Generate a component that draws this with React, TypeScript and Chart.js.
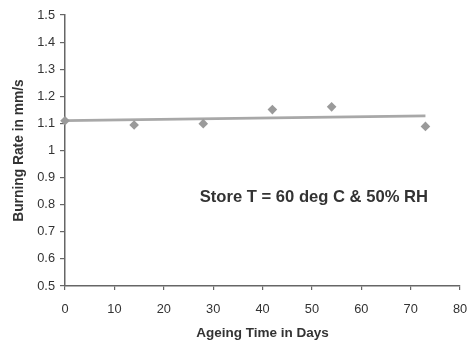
import React, { useEffect, useRef } from "react";
import { Chart, registerables } from "chart.js";

Chart.register(...registerables);

const ageingDays = [0, 14, 28, 42, 54, 73];
const burningRate = [1.11, 1.094, 1.099, 1.151, 1.161, 1.089];
const trendDays = [0, 73];
const trendRate = [1.11, 1.128];
const xTickValues = [0, 10, 20, 30, 40, 50, 60, 70, 80];
const xTickLabels = ["0", "10", "20", "30", "40", "50", "60", "70", "80"];
const yTickValues = [0.5, 0.6, 0.7, 0.8, 0.9, 1.0, 1.1, 1.2, 1.3, 1.4, 1.5];
const yTickLabels = ["0.5", "0.6", "0.7", "0.8", "0.9", "1", "1.1", "1.2", "1.3", "1.4", "1.5"];
const noteText = "Store T = 60 deg C & 50% RH";
const xTitle = "Ageing Time in Days";
const yTitle = "Burning Rate in mm/s";

const FONT = "Liberation Sans, Arial, sans-serif";
const TEXT = "#333333";
const AXIS = "#666666";

const notePlugin = {
  id: "note",
  afterDatasetsDraw(chart: any) {
    const { ctx, scales } = chart;
    const x = scales.x.getPixelForValue(50.4);
    const y = scales.y.getPixelForValue(0.828);
    ctx.save();
    ctx.font = `bold 16.6px ${FONT}`;
    ctx.fillStyle = TEXT;
    ctx.textAlign = "center";
    ctx.textBaseline = "middle";
    ctx.fillText(noteText, x, y);
    ctx.restore();
  },
};

export default function App() {
  const ref = useRef<HTMLCanvasElement | null>(null);
  useEffect(() => {
    if (!ref.current) return;
    const chart = new Chart(ref.current, {
      type: "scatter",
      data: {
        datasets: [
          {
            label: "Burning rate",
            data: ageingDays.map((d, i) => ({ x: d, y: burningRate[i] })),
            pointStyle: "rectRot",
            pointRadius: 4.8,
            pointBackgroundColor: "#9a9a9a",
            pointBorderColor: "#9a9a9a",
            pointBorderWidth: 0,
            showLine: false,
            clip: false as any,
            order: 0,
          },
          {
            label: "Trend",
            data: trendDays.map((d, i) => ({ x: d, y: trendRate[i] })),
            showLine: true,
            borderColor: "#a8a8a8",
            borderWidth: 2.8,
            pointRadius: 0,
            order: 1,
          },
        ],
      },
      options: {
        animation: false,
        responsive: false,
        layout: { padding: { left: 0, top: 15, right: 10, bottom: 0 } },
        plugins: { legend: { display: false }, tooltip: { enabled: false } },
        scales: {
          x: {
            type: "linear",
            min: 0,
            max: 80,
            afterBuildTicks: (s: any) => {
              s.ticks = xTickValues.map((v) => ({ value: v }));
            },
            afterFit: (s: any) => {
              s.height = 56;
              s.paddingRight = 0;
              s.paddingLeft = 0;
            },
            ticks: {
              callback: (_v: any, i: number) => xTickLabels[i],
              color: TEXT,
              font: { family: FONT, size: 12.8 },
              padding: 12,
              maxRotation: 0,
            },
            grid: {
              drawOnChartArea: false,
              drawTicks: true,
              tickLength: 4,
              color: AXIS,
              lineWidth: 1.2,
            },
            border: { color: AXIS, width: 1.5 },
            title: {
              display: true,
              text: xTitle,
              color: TEXT,
              font: { family: FONT, size: 13.5, weight: "bold" },
              padding: { top: 0, bottom: 1 },
            },
          },
          y: {
            type: "linear",
            min: 0.5,
            max: 1.5,
            afterBuildTicks: (s: any) => {
              s.ticks = yTickValues.map((v) => ({ value: v }));
            },
            afterFit: (s: any) => {
              s.width = 65;
            },
            ticks: {
              callback: (_v: any, i: number) => yTickLabels[i],
              color: TEXT,
              font: { family: FONT, size: 12.8 },
              padding: 5,
            },
            grid: {
              drawOnChartArea: false,
              drawTicks: true,
              tickLength: 5,
              color: AXIS,
              lineWidth: 1.2,
            },
            border: { color: AXIS, width: 1.5 },
            title: {
              display: true,
              text: yTitle,
              color: TEXT,
              font: { family: FONT, size: 13.8, weight: "bold" },
              padding: { top: 11, bottom: 0 },
            },
          },
        },
      },
      plugins: [notePlugin],
    });
    return () => chart.destroy();
  }, []);
  return (
    <div style={{ position: "absolute", left: 0, top: 0, width: 470, height: 342, background: "#fff" }}>
      <canvas ref={ref} width={470} height={342} style={{ display: "block" }} />
    </div>
  );
}
